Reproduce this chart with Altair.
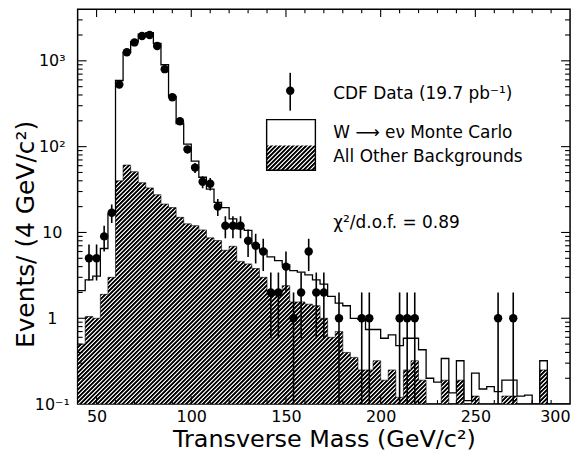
import altair as alt
import pandas as pd
import numpy as np

# ---------------- data ----------------
bin_lo = list(range(40, 300, 4))          # 4 GeV bins, lower edges
bin_hi_end = 300

cdf_counts = [0, 5, 5, 9, 17,   530, 1260, 1640, 1950, 2000,
              1490, 800, 376, 198, 93,   57, 39, 37, 20, 12,
              12, 12, 8, 7, 6,   2, 2, 4, 1, 2,
              6, 2, 2, 0, 1,   0, 0, 1, 1, 0,
              0, 0, 1, 1, 1,   0, 0, 0, 0, 0,
              0, 0, 0, 0, 0,   1, 0, 1, 0, 0,
              0, 0, 0, 0, 0]

mc_total = [2.1, 2.8, 3.1, 6.5, 16.5,   590, 1250, 1670, 2050, 2130,
            1600, 900, 386, 186, 107,   68, 44, 32, 22.4, 19.5,
            14.4, 11, 10.6, 7.2, 6.2,   5.2, 4.7, 4.2, 3.6, 3.45,
            3.2, 2.8, 2.5, 1.8, 1.5,   1.4, 1.0, 0.97, 0.74, 0.74,
            0.585, 0.64, 0.48, 0.585, 0.585,   0.43, 0.2, 0.18, 0.34, 0.135,
            0.32, 0.11, 0.23, 0.15, 0.16,   0.14, 0.19, 0.19, 0.124, 0.127,
            0, 0.32, 0, 0, 0]

other_bkg = [0.5, 1.05, 1.0, 1.9, 3.0,   40, 61, 51, 38, 33,
             27.5, 21.4, 19.5, 15, 12.6,   12, 10.7, 8.65, 8.05, 6.2,
             6.9, 4.6, 4.3, 3.8, 3.0,   2.1, 2.1, 2.4, 1.55, 1.55,
             1.46, 1.4, 1.0, 0.6, 0.7,   0.4, 0.35, 0.25, 0.25, 0.32,
             0.19, 0.25, 0.12, 0.25, 0.32,   0.19, 0, 0, 0.19, 0,
             0.19, 0, 0.124, 0, 0,   0, 0.124, 0.124, 0, 0,
             0, 0.25, 0, 0, 0]

x_label_values = [50, 100, 150, 200, 250, 300]
x_major_ticks = [50, 100, 150, 200, 250]
x_minor_ticks = [v for v in range(50, 300, 10) if v % 50 != 0]
y_label_values = [0.1, 1, 10, 100, 1000]
y_major_ticks = [1, 10, 100, 1000]
y_minor_ticks = [k * 10.0 ** d for d in range(-1, 4) for k in range(2, 10) if k * 10.0 ** d < 4000]

legend_data = "CDF Data (19.7 pb\u207b\u00b9)"
legend_mc = "W \u27f6 e\u03bd Monte Carlo"
legend_bkg = "All Other Backgrounds"
chi2_text = "\u03c7\u00b2/d.o.f. = 0.89"
x_title = "Transverse Mass (GeV/c\u00b2)"
y_title = "Events/ (4 GeV/c\u00b2)"

# ---------------- tables ----------------
FLOOR = 0.1
step = pd.DataFrame({
    "x": bin_lo + [bin_hi_end],
    "mc": [max(v, FLOOR) for v in mc_total] + [max(mc_total[-1], FLOOR)],
    "bg": [max(v, FLOOR) for v in other_bkg] + [max(other_bkg[-1], FLOOR)],
})
pts = pd.DataFrame({"xc": [b + 2 for b in bin_lo], "n": cdf_counts})
pts = pts[pts.n > 0].copy()
pts["lo"] = np.maximum(pts.n - np.sqrt(pts.n), FLOOR)
pts["hi"] = pts.n + np.sqrt(pts.n)

W, H = 495, 397
FONT = "DejaVu Sans"


def hatch(w, h, period=3.0):
    """Diagonal '/' stripes as a repeating linear gradient over the mark's bounding box."""
    r = h / w
    a = (1 + r) / (1 + r * r)
    n = int(round((w + h) / np.sqrt(2) / period))
    stops = []
    for i in range(n):
        stops += [alt.GradientStop(color="#000000", offset=i / n),
                  alt.GradientStop(color="#000000", offset=(i + 0.4) / n),
                  alt.GradientStop(color="#ffffff", offset=(i + 0.65) / n),
                  alt.GradientStop(color="#ffffff", offset=(i + 0.8) / n)]
    stops.append(alt.GradientStop(color="#000000", offset=1))
    return alt.LinearGradient(gradient="linear", stops=stops, x1=0, y1=0, x2=a, y2=a * r)


xscale = alt.Scale(domain=[40, 300], nice=False, zero=False)
yscale = alt.Scale(type="log", domain=[0.1, 4000], nice=False)

xaxis = alt.Axis(orient="bottom", values=x_label_values, ticks=False, tickSize=0, domain=False, grid=False,
                 labelFont=FONT, labelFontSize=16, labelPadding=5, labelColor="black",
                 title=x_title, titleFont=FONT, titleFontSize=24,
                 titleFontWeight="normal", titleColor="black",
                 titleAlign="center", titleBaseline="alphabetic", titleX=W / 2, titleY=43)
yaxis = alt.Axis(orient="left", values=y_label_values, ticks=False, tickSize=0, domain=False, grid=False,
                 labelExpr="datum.value >= 999 ? '10\u00b3' : datum.value >= 99 ? '10\u00b2' : datum.value >= 9 ? '10' : datum.value >= 0.9 ? '1' : '10\u207b\u00b9'",
                 labelFont=FONT, labelFontSize=16, labelAlign="center", labelPadding=26, labelColor="black",
                 title=y_title, titleFont=FONT, titleFontSize=25,
                 titleFontWeight="normal", titleColor="black",
                 titleAngle=270, titleAlign="center", titleBaseline="alphabetic",
                 titleX=-44, titleY=226)


def X(field):
    return alt.X(field, scale=xscale, axis=xaxis)


def Y(field):
    return alt.Y(field, scale=yscale, axis=yaxis)


bg_area = alt.Chart(step).mark_area(
    interpolate="step-after", fill=hatch(W, 240.8), stroke="black", strokeWidth=0.6, clip=True
).encode(x=X("x:Q"), y=Y("bg:Q"), y2=alt.datum(0.1))

mc_line = alt.Chart(step).mark_line(
    interpolate="step-after", color="black", strokeWidth=1.3, clip=True
).encode(x=X("x:Q"), y=Y("mc:Q"))

err = alt.Chart(pts).mark_rule(color="black", strokeWidth=1.6, clip=True).encode(
    x=X("xc:Q"), y=Y("lo:Q"), y2="hi:Q")

dots = alt.Chart(pts).mark_circle(color="black", opacity=1, size=72, clip=True).encode(
    x=X("xc:Q"), y=Y("n:Q"))


def xticks(vals, length):
    d = pd.DataFrame({"v": vals})
    base = alt.Chart(d).mark_rule(color="black", strokeWidth=1.1)
    bot = base.encode(x=X("v:Q"), y=alt.value(H), y2=alt.value(H - length))
    top = base.encode(x=X("v:Q"), y=alt.value(0), y2=alt.value(length))
    return [bot, top]


def yticks(vals, length):
    d = pd.DataFrame({"v": vals})
    base = alt.Chart(d).mark_rule(color="black", strokeWidth=1.1)
    left = base.encode(y=Y("v:Q"), x=alt.value(0), x2=alt.value(length))
    right = base.encode(y=Y("v:Q"), x=alt.value(W), x2=alt.value(W - length))
    return [left, right]


tick_layers = xticks(x_major_ticks, 8) + xticks(x_minor_ticks, 4) + yticks(y_major_ticks, 9) + yticks(y_minor_ticks, 5)

# ---------------- legend ----------------
one = pd.DataFrame({"k": [0]})
leg_bar = alt.Chart(one).mark_rule(color="black", strokeWidth=1.6).encode(
    x=alt.value(213.7), y=alt.value(64), y2=alt.value(102))
leg_dot = alt.Chart(one).mark_circle(color="black", opacity=1, size=72).encode(
    x=alt.value(213.7), y=alt.value(82))
leg_hatch = alt.Chart(one).mark_rect(fill=hatch(49, 25)).encode(
    x=alt.value(190), x2=alt.value(239), y=alt.value(137), y2=alt.value(162))
leg_box = alt.Chart(one).mark_rect(fill=None, stroke="black", strokeWidth=1.4).encode(
    x=alt.value(190), x2=alt.value(239), y=alt.value(111), y2=alt.value(162))


def label(txt, y):
    return alt.Chart(pd.DataFrame({"t": [txt]})).mark_text(
        font=FONT, fontSize=17, align="left", baseline="alphabetic", color="black"
    ).encode(x=alt.value(257), y=alt.value(y), text="t:N")


texts = [label(legend_data, 90), label(legend_mc, 130), label(legend_bkg, 153.5), label(chi2_text, 220)]

chart = alt.layer(
    bg_area, mc_line, err, dots, *tick_layers, leg_bar, leg_dot, leg_hatch, leg_box, *texts
).properties(
    width=W, height=H,
    autosize=alt.AutoSizeParams(type="none"),
    padding={"left": 70, "top": 0, "right": 10, "bottom": 50},
    background="white",
).configure_view(stroke="black", strokeWidth=1.5)

chart.save("out.html", embed_options={"renderer": "svg", "actions": False})
